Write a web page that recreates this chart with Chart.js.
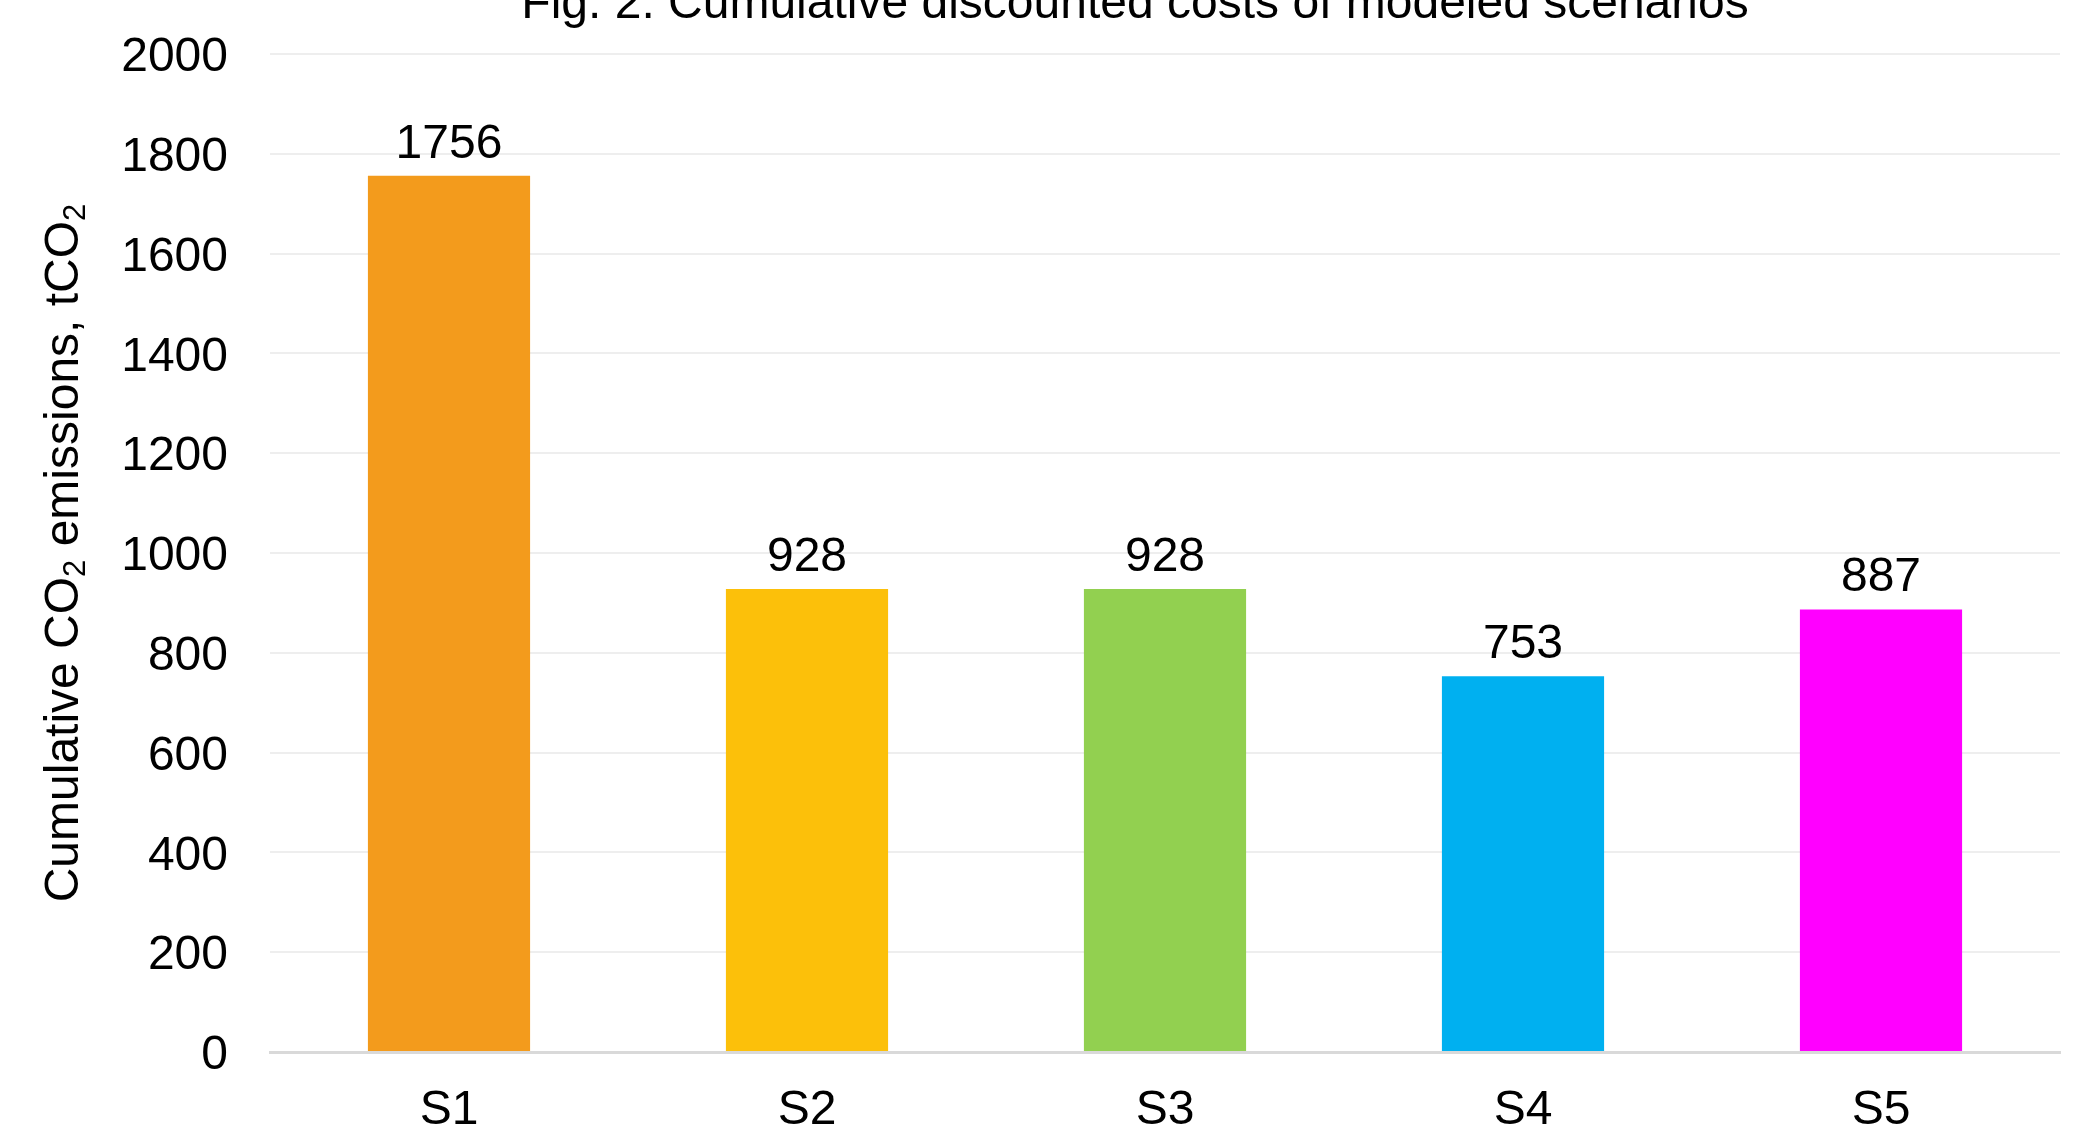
<!DOCTYPE html>
<html>
<head>
<meta charset="utf-8">
<script src="https://cdn.jsdelivr.net/npm/chart.js@4.4.1/dist/chart.umd.min.js"></script>
<style>
  html, body { margin: 0; padding: 0; background: #ffffff; overflow: hidden; }
  #wrap { width: 2098px; height: 1132px; position: relative; }
</style>
</head>
<body>
<div id="wrap"><canvas id="c" width="2098" height="1132"></canvas></div>
<script>
// Scenario results
const categories = ['S1', 'S2', 'S3', 'S4', 'S5'];
const emissions = [1756, 928, 928, 753, 887];
const barColors = ['#F39B1C', '#FCC00A', '#92D050', '#00B0F0', '#FF00FF'];
const yMin = 0;
const yMax = 2000;
const yStep = 200;
const chartTitle = 'Fig. 2. Cumulative discounted costs of modeled scenarios';
// y-axis title pieces: [text, isSubscript]
const yTitleParts = [
  ['Cumulative CO', false],
  ['2', true],
  [' emissions, tCO', false],
  ['2', true]
];

const FONT = "'Liberation Sans', Arial, Helvetica, sans-serif";
const BASE_SIZE = 48;
const SUB_SIZE = 31;

// Value labels above each bar
const valueLabels = {
  id: 'valueLabels',
  afterDatasetsDraw(chart) {
    const ctx = chart.ctx;
    const meta = chart.getDatasetMeta(0);
    ctx.save();
    ctx.font = BASE_SIZE + 'px ' + FONT;
    ctx.fillStyle = '#000000';
    ctx.textAlign = 'center';
    ctx.textBaseline = 'alphabetic';
    meta.data.forEach((bar, i) => {
      ctx.fillText(String(chart.data.datasets[0].data[i]), bar.x, bar.y - 18);
    });
    ctx.restore();
  }
};

// Chart heading (partly above the top edge) and rotated y-axis title with subscripts
const headings = {
  id: 'headings',
  afterDraw(chart) {
    const ctx = chart.ctx;
    const area = chart.chartArea;
    ctx.save();
    ctx.fillStyle = '#000000';
    ctx.font = BASE_SIZE + 'px ' + FONT;
    ctx.textAlign = 'center';
    ctx.textBaseline = 'alphabetic';
    ctx.fillText(chartTitle, 1135, 18);
    ctx.restore();

    ctx.save();
    ctx.fillStyle = '#000000';
    ctx.textAlign = 'left';
    ctx.textBaseline = 'alphabetic';
    let total = 0;
    const widths = yTitleParts.map(([t, sub]) => {
      ctx.font = (sub ? SUB_SIZE : BASE_SIZE) + 'px ' + FONT;
      const w = ctx.measureText(t).width;
      total += w;
      return w;
    });
    const cy = (area.top + area.bottom) / 2;
    ctx.translate(78, cy);
    ctx.rotate(-Math.PI / 2);
    let x = -total / 2;
    yTitleParts.forEach(([t, sub], i) => {
      ctx.font = (sub ? SUB_SIZE : BASE_SIZE) + 'px ' + FONT;
      ctx.fillText(t, x, sub ? 7 : 0);
      x += widths[i];
    });
    ctx.restore();
  }
};

new Chart(document.getElementById('c'), {
  type: 'bar',
  data: {
    labels: categories,
    datasets: [{
      data: emissions,
      backgroundColor: barColors,
      borderWidth: 0,
      categoryPercentage: 1.0,
      barPercentage: 0.453
    }]
  },
  options: {
    responsive: false,
    devicePixelRatio: 1,
    animation: false,
    layout: { padding: { top: 54, right: 38, left: 0, bottom: 0 } },
    plugins: {
      legend: { display: false },
      title: { display: false },
      tooltip: { enabled: false }
    },
    scales: {
      x: {
        grid: { display: false, drawTicks: false },
        border: { display: true, color: '#D9D9D9', width: 3 },
        ticks: {
          color: '#000000',
          font: { family: FONT, size: BASE_SIZE },
          padding: 30,
          maxRotation: 0
        },
        afterFit(scale) { scale.height = 80; }
      },
      y: {
        min: yMin,
        max: yMax,
        grid: { color: '#EEEEEE', lineWidth: 2, drawTicks: false },
        border: { display: false },
        ticks: {
          stepSize: yStep,
          color: '#000000',
          font: { family: FONT, size: BASE_SIZE, lineHeight: 0.5 },
          padding: 42,
          labelOffset: 4,
          callback: (v) => String(v)
        },
        afterFit(scale) { scale.width = 270; }
      }
    }
  },
  plugins: [valueLabels, headings]
});
</script>
</body>
</html>
